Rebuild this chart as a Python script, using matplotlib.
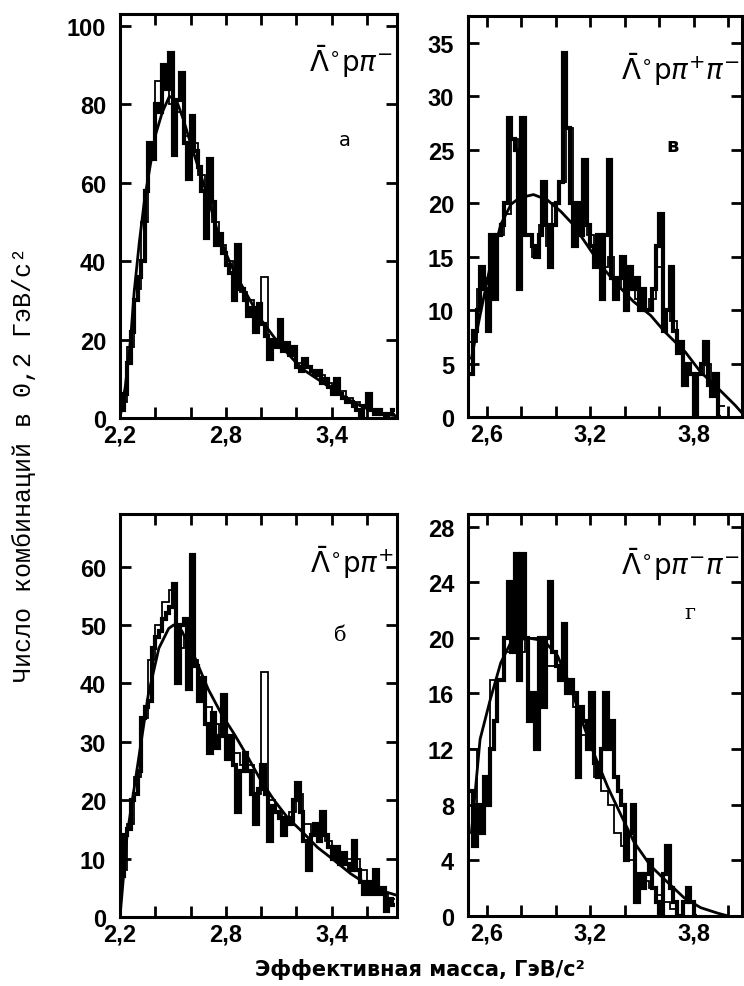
import numpy as np
import matplotlib
matplotlib.use("Agg")
import matplotlib.pyplot as plt

plt.rcParams['mathtext.fontset'] = 'dejavusans'

# ---- panel a: anti-Lambda p pi-  (bins of 0.02 GeV from 2.20)
a_start, a_width = 2.20, 0.02
a_thick = [2, 6, 14, 22, 30, 36, 40, 58, 70, 66, 80, 78, 90, 84, 93, 67, 81, 88, 70, 61,
           77, 68, 64, 58, 46, 66, 55, 44, 47, 42, 39, 37, 30, 44, 33, 30, 26, 28, 22, 29,
           24, 21, 15, 20, 18, 25, 17, 19, 16, 18, 13, 12, 15, 13, 12, 11, 12, 9, 10, 8,
           6, 10, 6, 5, 4, 4, 3, 2, 0, 3, 6, 2, 1, 2, 1, 0, 1, 2]
a_thin_width = 0.04
a_thin = [4, 18, 33, 50, 68, 86, 86, 80, 78, 72, 70, 62, 56, 50, 44, 40, 36, 32, 30, 27,
          36, 20, 19, 18, 16, 14, 13, 12, 11, 9, 8, 7, 5, 4, 3, 2, 2, 1, 1]
a_curve_x = [2.20, 2.23, 2.26, 2.28, 2.31, 2.34, 2.37, 2.40, 2.44, 2.48, 2.52, 2.56, 2.60,
             2.65, 2.70, 2.75, 2.80, 2.85, 2.90, 2.95, 3.00, 3.05, 3.10, 3.15, 3.20, 3.25,
             3.30, 3.35, 3.40, 3.45, 3.50, 3.55, 3.60, 3.65, 3.70, 3.76]
a_curve_y = [0, 8, 20, 32, 45, 56, 64, 72, 78, 82, 81, 76, 70, 63, 56, 48, 42, 37, 33, 29,
             25, 22, 19, 16.5, 14, 12, 10.5, 9, 7.5, 6, 4.6, 3.4, 2.4, 1.6, 1.0, 0.6]

# ---- panel b (в): anti-Lambda p pi+ pi-
b_start, b_width = 2.50, 0.02
b_thick = [4, 8, 10, 14, 12, 8, 17, 11, 17, 18, 20, 28, 26, 25, 12, 28, 17, 17, 16, 15,
           17, 22, 18, 14, 18, 20, 22, 34, 27, 20, 16, 20, 17, 24, 18, 16, 14, 17, 11, 17,
           24, 13, 11, 13, 15, 10, 14, 12, 13, 10, 12, 10, 10, 12, 16, 19, 8, 10, 14, 8,
           6, 7, 3, 5, 4, 0, 4, 5, 7, 3, 2, 4, 0]
b_thin_width = 0.04
b_thin = [7, 12, 13, 16, 17, 19, 26, 24, 17, 15, 18, 16, 20, 22, 27, 18, 19, 17, 15, 14,
          15, 12, 13, 12, 11, 10, 11, 14, 10, 9, 6, 5, 4, 4, 5, 3, 1]
b_curve_x = [2.51, 2.56, 2.62, 2.68, 2.74, 2.79, 2.87, 2.95, 3.03, 3.10, 3.18, 3.26, 3.36,
             3.45, 3.55, 3.63, 3.75, 3.84, 3.94, 4.04, 4.09]
b_curve_y = [5.5, 9.5, 14.2, 18, 19.9, 20.5, 20.8, 20.3, 19.2, 18, 16.1, 14.2, 12.3,
             10.8, 9.5, 8, 6.1, 4.2, 2.7, 1.1, 0.2]

# ---- panel c (б): anti-Lambda p pi+
c_start, c_width = 2.20, 0.02
c_thick = [7, 14, 15, 20, 21, 25, 34, 36, 37, 46, 48, 49, 51, 52, 53, 57, 40, 50, 51, 39,
           62, 43, 37, 41, 33, 28, 35, 29, 31, 38, 27, 31, 26, 18, 25, 28, 25, 21, 16, 22,
           26, 21, 13, 19, 18, 17, 14, 17, 16, 20, 23, 18, 13, 8, 14, 16, 13, 18, 14, 12,
           10, 12, 9, 11, 9, 8, 13, 8, 6, 4, 6, 4, 8, 4, 5, 1, 3, 2]
c_thin_width = 0.04
c_thin = [8, 16, 24, 34, 44, 50, 54, 56, 46, 48, 44, 40, 36, 33, 31, 30, 28, 26, 26, 21,
          42, 20, 18, 17, 18, 21, 16, 14, 15, 13, 12, 11, 10, 10, 8, 6, 5, 4, 3]
c_curve_x = [2.20, 2.24, 2.30, 2.36, 2.42, 2.476, 2.504, 2.55, 2.626, 2.70, 2.776, 2.85,
             2.926, 3.00, 3.076, 3.15, 3.226, 3.32, 3.414, 3.508, 3.60, 3.695, 3.76]
c_curve_y = [0, 14, 26, 38, 46, 49.4, 50, 49, 44.3, 39, 34.7, 31.2, 27.3, 23.3, 19.9, 17,
             14.8, 11.9, 9.7, 7.4, 5.6, 4.4, 3.8]

# ---- panel d (г): anti-Lambda p pi- pi-
d_start, d_width = 2.50, 0.02
d_thick = [9, 5, 8, 6, 10, 8, 12, 14, 17, 17, 20, 24, 19, 26, 17, 26, 20, 14, 16, 12,
           20, 15, 20, 24, 19, 18, 17, 21, 16, 17, 16, 10, 15, 14, 12, 16, 11, 10, 12, 16,
           12, 14, 10, 9, 8, 4, 6, 8, 1, 3, 2, 3, 4, 2, 1, 0, 3, 5, 2, 1, 0, 0, 1, 2, 1, 0]
d_thin_width = 0.04
d_thin = [12, 8, 8, 17, 17, 19, 20, 19, 20, 20, 19, 18, 18, 17, 17, 15, 13, 12, 10, 9,
          8, 6, 5, 4, 3, 2.5, 2, 1.5, 1, 0.5]
d_curve_x = [2.51, 2.56, 2.62, 2.68, 2.736, 2.83, 2.93, 3.01, 3.085, 3.14, 3.22, 3.30,
             3.38, 3.454, 3.55, 3.65, 3.745, 3.84, 3.94, 4.00]
d_curve_y = [6, 12.7, 15.6, 18.2, 19.6, 20, 19.8, 18.7, 16.5, 14.4, 11.7, 9.3, 7.2, 5.3,
             3.6, 2.4, 1.3, 0.6, 0.2, 0]

W, H = 744, 987
fig = plt.figure(figsize=(W / 100, H / 100), dpi=100)


def px_axes(left, top, right, bottom):
    return fig.add_axes([left / W, 1 - bottom / H, (right - left) / W, (bottom - top) / H])


def draw_panel(ax, start, width, thick, thin_width, thin, cx, cy, xlim, ylim,
               xticks, xlabels, yticks):
    edges = start + width * np.arange(len(thick) + 1)
    ax.stairs(thick, edges, color='black', lw=3.0, baseline=None)
    edges2 = start + thin_width * np.arange(len(thin) + 1)
    ax.stairs(thin, edges2, color='black', lw=1.3, baseline=None)
    ax.plot(cx, cy, color='black', lw=2.0)
    ax.set_xlim(*xlim)
    ax.set_ylim(*ylim)
    ax.set_xticks(xticks)
    ax.set_xticklabels(xlabels)
    ax.set_yticks(yticks)
    ax.tick_params(direction='in', top=True, right=True, length=8, width=2,
                   labelsize=17)
    ax.tick_params(axis='y', pad=10)
    ax.tick_params(axis='x', pad=4)
    for lab in ax.get_xticklabels() + ax.get_yticklabels():
        lab.set_fontfamily('Liberation Sans')
        lab.set_fontweight('bold')
    for sp in ax.spines.values():
        sp.set_linewidth(2.2)


ticks_a = [2.2, 2.4, 2.6, 2.8, 3.0, 3.2, 3.4, 3.6]
labels_a = ['2,2', '', '', '2,8', '', '', '3,4', '']
ticks_b = [2.6, 2.8, 3.0, 3.2, 3.4, 3.6, 3.8, 4.0]
labels_b = ['2,6', '', '', '3,2', '', '', '3,8', '']

ax1 = px_axes(120, 15, 397, 419)
draw_panel(ax1, a_start, a_width, a_thick, a_thin_width, a_thin, a_curve_x, a_curve_y,
           (2.2, 3.77), (0, 103), ticks_a, labels_a, range(0, 101, 20))
ax2 = px_axes(468, 17, 742, 418)
draw_panel(ax2, b_start, b_width, b_thick, b_thin_width, b_thin, b_curve_x, b_curve_y,
           (2.49, 4.08), (0, 37.5), ticks_b, labels_b, range(0, 36, 5))
ax3 = px_axes(120, 515, 397, 918)
draw_panel(ax3, c_start, c_width, c_thick, c_thin_width, c_thin, c_curve_x, c_curve_y,
           (2.2, 3.77), (0, 69), ticks_a, labels_a, range(0, 61, 10))
ax4 = px_axes(468, 515, 742, 917)
draw_panel(ax4, d_start, d_width, d_thick, d_thin_width, d_thin, d_curve_x, d_curve_y,
           (2.49, 4.08), (0, 28.9), ticks_b, labels_b, range(0, 29, 4))

# reaction labels
ax1.text(0.985, 0.884, r'$\bar{\Lambda}^{\circ}\mathrm{p}\pi^{-}$', transform=ax1.transAxes,
         ha='right', va='center', fontsize=20)
ax2.text(0.993, 0.868, r'$\bar{\Lambda}^{\circ}\mathrm{p}\pi^{+}\pi^{-}$',
         transform=ax2.transAxes, ha='right', va='center', fontsize=20)
ax3.text(0.99, 0.881, r'$\bar{\Lambda}^{\circ}\mathrm{p}\pi^{+}$', transform=ax3.transAxes,
         ha='right', va='center', fontsize=20)
ax4.text(0.993, 0.876, r'$\bar{\Lambda}^{\circ}\mathrm{p}\pi^{-}\pi^{-}$',
         transform=ax4.transAxes, ha='right', va='center', fontsize=20)

# panel letters
ax1.text(0.812, 0.69, 'а', transform=ax1.transAxes, ha='center', va='center',
         fontsize=14, family='DejaVu Sans')
ax2.text(0.745, 0.678, 'в', transform=ax2.transAxes, ha='center', va='center',
         fontsize=14, family='DejaVu Sans', fontweight='bold')
ax3.text(0.794, 0.702, 'б', transform=ax3.transAxes, ha='center', va='center',
         fontsize=15, family='DejaVu Serif')
ax4.text(0.81, 0.756, 'г', transform=ax4.transAxes, ha='center', va='center',
         fontsize=15, family='DejaVu Serif')

fig.text(24 / W, 1 - 465 / H, 'Число комбинаций в 0,2 ГэВ/с²', rotation=90,
         ha='center', va='center', fontsize=18,
         family=['Liberation Mono', 'DejaVu Sans Mono'])
fig.text(420 / W, 1 - 970 / H, 'Эффективная масса, ГэВ/с²', ha='center',
         va='center', fontsize=15, family='DejaVu Sans', fontweight='bold')

fig.savefig('out.png', dpi=100)
